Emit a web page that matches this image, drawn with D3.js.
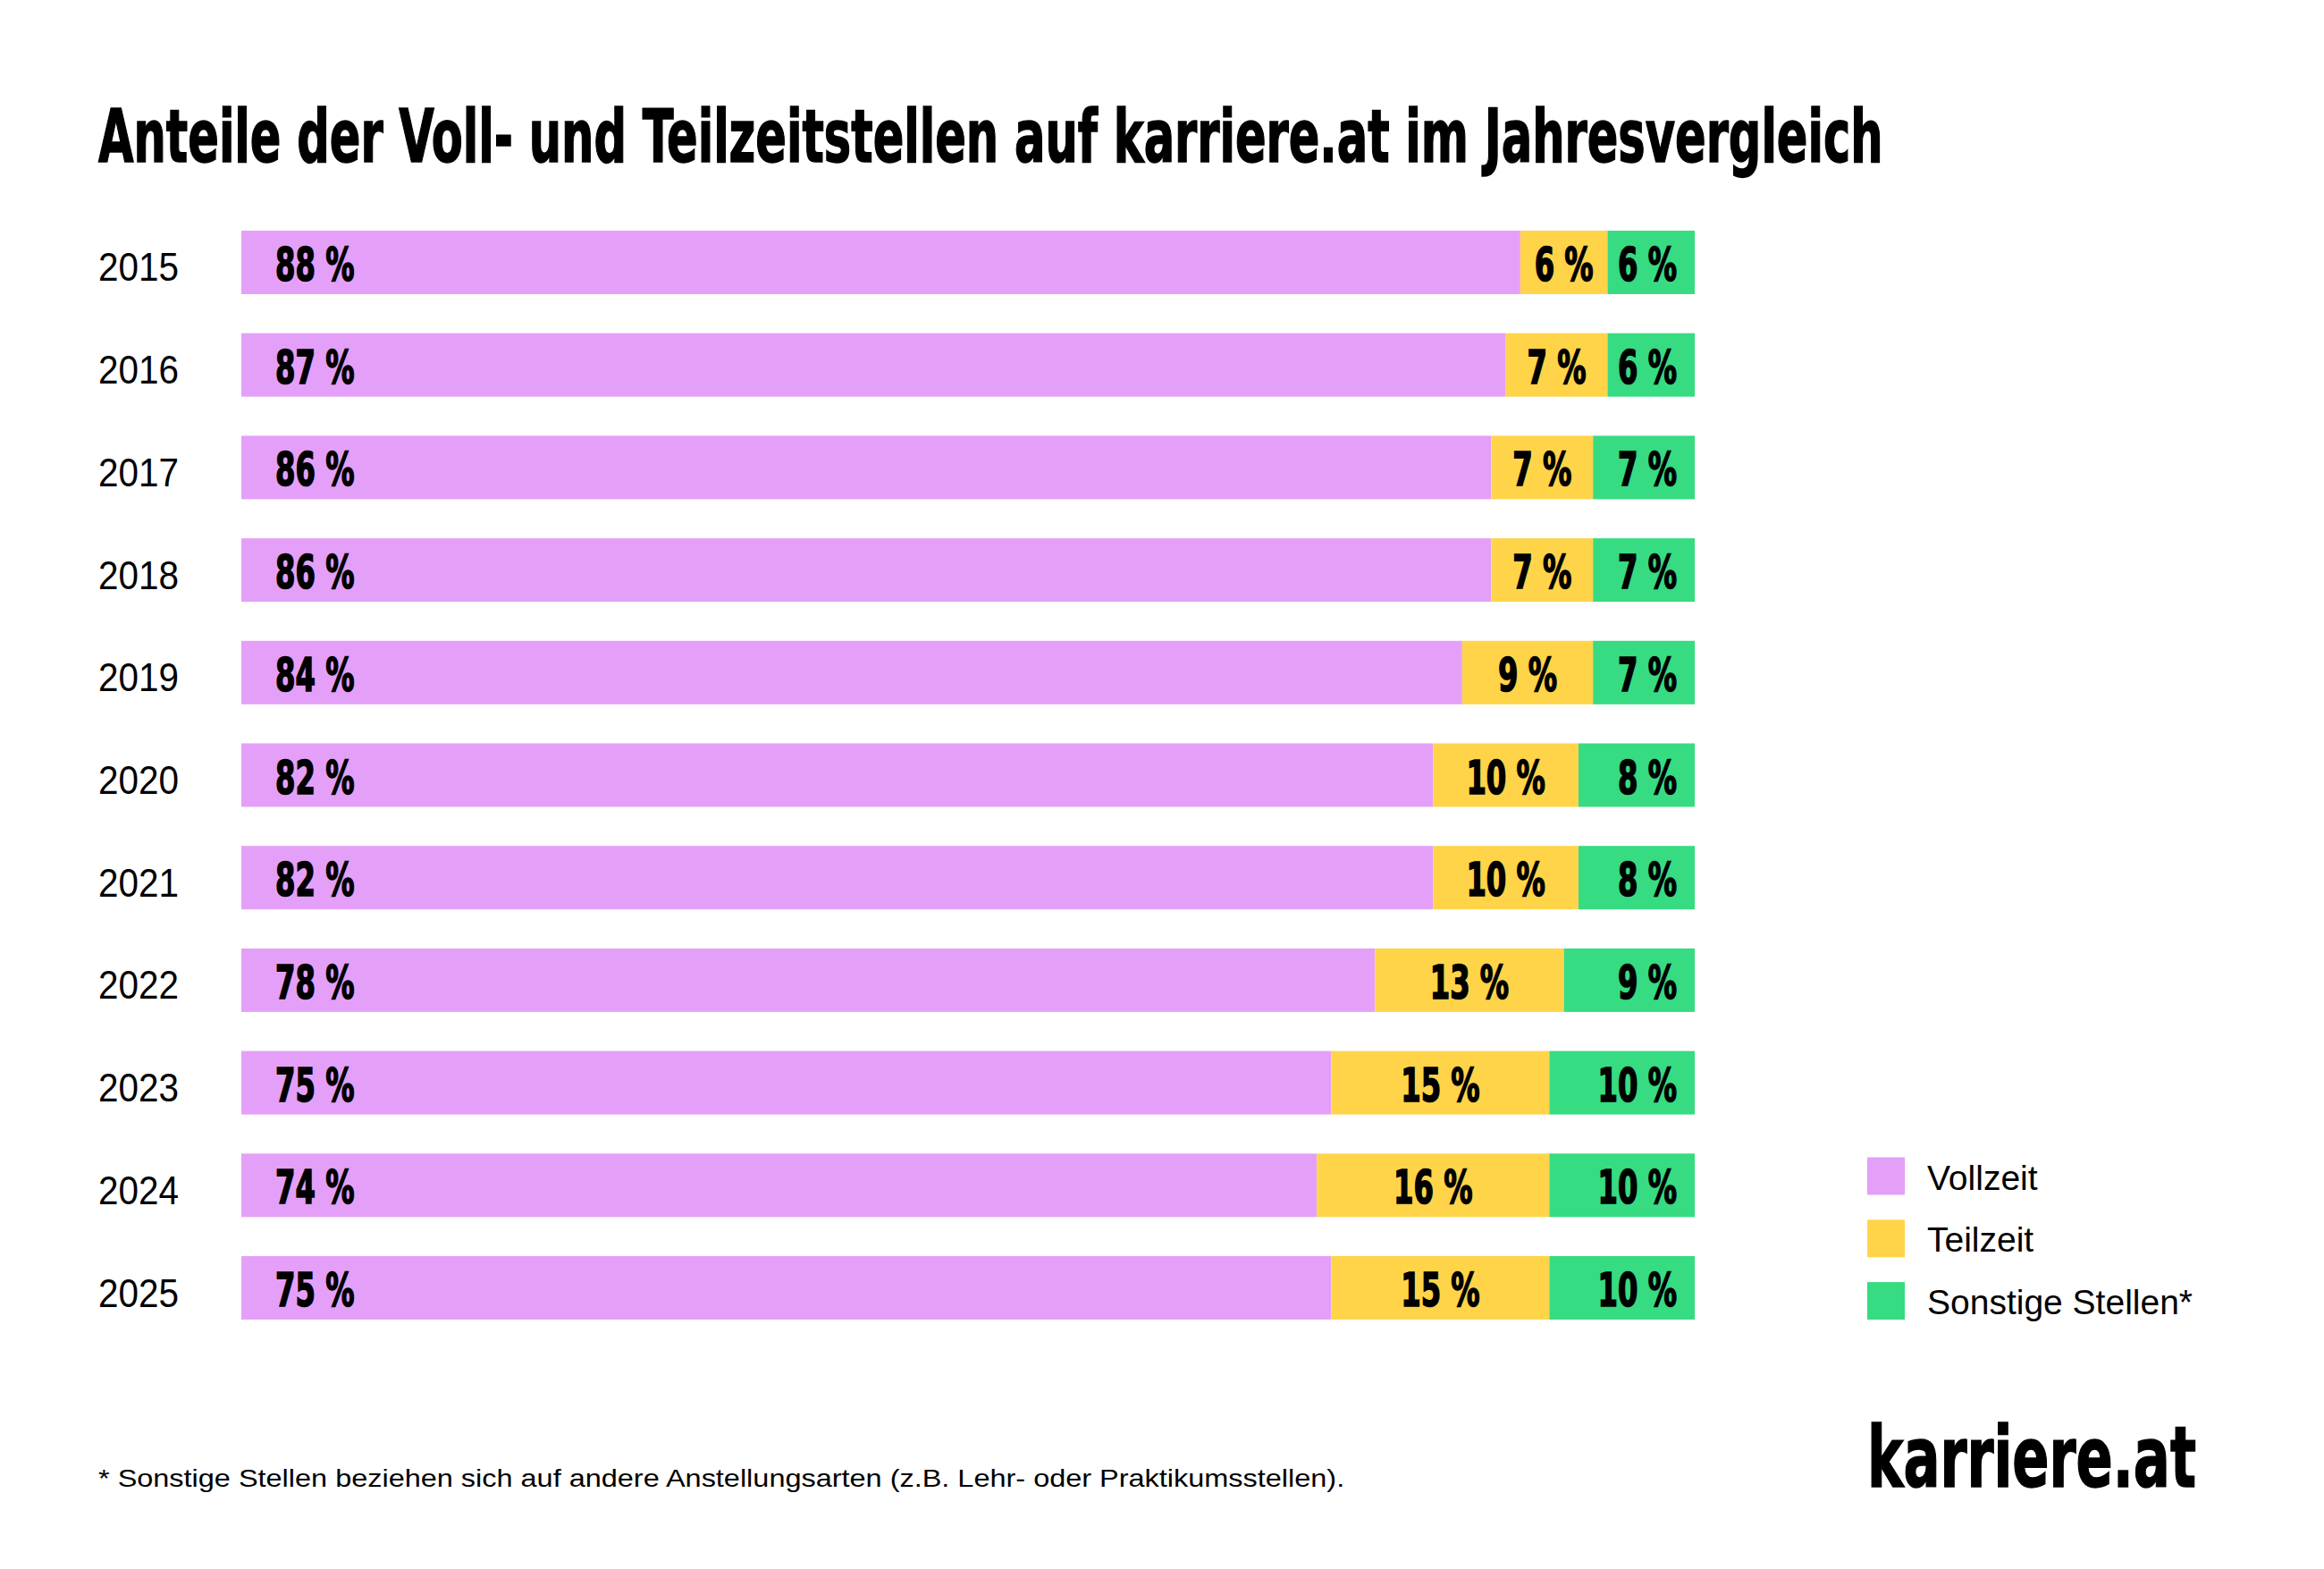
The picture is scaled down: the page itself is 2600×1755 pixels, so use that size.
<!DOCTYPE html>
<html>
<head>
<meta charset="utf-8">
<script src="https://cdn.jsdelivr.net/npm/d3@7"></script>
<style>
  html, body { margin: 0; padding: 0; background: #fff; }
  svg { display: block; }
</style>
</head>
<body>
<svg id="chart" width="2600" height="1755"></svg>
<script>
// data (shares in %)
var years = ["2015", "2016", "2017", "2018", "2019", "2020", "2021", "2022", "2023", "2024", "2025"];
var vollzeit = [88, 87, 86, 86, 84, 82, 82, 78, 75, 74, 75];
var teilzeit = [6, 7, 7, 7, 9, 10, 10, 13, 15, 16, 15];
var sonstige = [6, 6, 7, 7, 7, 8, 8, 9, 10, 10, 10];
var seriesKeys = ["vollzeit", "teilzeit", "sonstige"];
var seriesNames = ["Vollzeit", "Teilzeit", "Sonstige Stellen*"];

var titleText = "Anteile der Voll- und Teilzeitstellen auf karriere.at im Jahresvergleich";
var footnoteText = "* Sonstige Stellen beziehen sich auf andere Anstellungsarten (z.B. Lehr- oder Praktikumsstellen).";
var logoText = "karriere.at";

var colors = { vollzeit: "#e4a0f8", teilzeit: "#ffd449", sonstige: "#36db82" };

var condensed = "'DejaVu Sans Condensed', 'Liberation Sans Narrow', sans-serif";
var regular = "'Liberation Sans', 'Roboto', sans-serif";

var svg = d3.select("#chart");

/**
 * squeeze a text horizontally so it fills the given width, anchored at (x, y)
 */
var fitWidth = function (sel, x, y, width) {
	var natural = sel.node().getComputedTextLength();
	var sx = natural > 0 ? width / natural : 1;
	sel.attr("transform", "translate(" + x + "," + y + ") scale(" + sx + ",1)");
};

// build rows for the stack layout
var rows = years.map(function (y, i) {
	return { year: y, vollzeit: vollzeit[i], teilzeit: teilzeit[i], sonstige: sonstige[i] };
});

var x = d3.scaleLinear().domain([0, 100]).range([270, 1896]);
var y = d3.scaleBand().domain(years).range([258, 1476]).paddingInner(0.381).paddingOuter(0);

var stacked = d3.stack().keys(seriesKeys)(rows);

// title (a thin stroke makes the bold face look as heavy as the original)
var title = svg.append("text")
	.style("font-family", condensed)
	.style("font-weight", 700)
	.style("font-size", "82px")
	.style("fill", "#000")
	.style("stroke", "#000")
	.style("stroke-width", 1.5)
	.text(titleText);
fitWidth(title, 110, 181, 1997);

// year labels (the band axis, drawn without a domain line)
var yAxis = svg.append("g")
	.attr("transform", "translate(110,0)")
	.call(d3.axisLeft(y).tickSize(0).tickPadding(0));
yAxis.select(".domain").remove();
yAxis.selectAll("text")
	.attr("text-anchor", "start")
	.attr("dy", null)
	.attr("y", 21)
	.attr("textLength", 90)
	.attr("lengthAdjust", "spacingAndGlyphs")
	.style("font-family", regular)
	.style("font-size", "45px")
	.style("fill", "#000");

// stacked bars
var layers = svg.append("g").selectAll("g")
	.data(stacked)
	.join("g")
	.attr("fill", function (d) { return colors[d.key]; });

layers.selectAll("rect")
	.data(function (d) { return d; })
	.join("rect")
	.attr("x", function (d) { return x(d[0]); })
	.attr("y", function (d) { return y(d.data.year); })
	.attr("width", function (d) { return x(d[1]) - x(d[0]); })
	.attr("height", y.bandwidth());

// value labels: first segment left, middle centred, last right
var labelX = function (d) {
	if (d.key === "vollzeit") { return x(d[0]) + 38; }
	if (d.key === "teilzeit") { return (x(d[0]) + x(d[1])) / 2; }
	return x(d[1]) - 20;
};

layers.selectAll("text")
	.data(function (d) { return d.map(function (p) { p.key = d.key; return p; }); })
	.join("text")
	.attr("transform", function (d) {
		return "translate(" + labelX(d) + "," + (y(d.data.year) + y.bandwidth() / 2 + 20.5) + ") scale(0.69,1)";
	})
	.attr("text-anchor", function (d) {
		if (d.key === "vollzeit") { return "start"; }
		if (d.key === "teilzeit") { return "middle"; }
		return "end";
	})
	.style("font-family", condensed)
	.style("font-weight", 700)
	.style("font-size", "52px")
	.style("fill", "#000")
	.style("stroke", "#000")
	.style("stroke-width", 1.6)
	.text(function (d) { return d.data[d.key] + " %"; });

// legend
var legend = svg.append("g").selectAll("g")
	.data(seriesKeys)
	.join("g")
	.attr("transform", function (d, i) { return "translate(2089," + (1294.5 + i * 69.8) + ")"; });

legend.append("rect")
	.attr("width", 42)
	.attr("height", 42)
	.attr("fill", function (d) { return colors[d]; });

legend.append("text")
	.attr("x", 67)
	.attr("y", 36)
	.style("font-family", regular)
	.style("font-size", "39px")
	.style("fill", "#000")
	.text(function (d, i) { return seriesNames[i]; });

// footnote
var footnote = svg.append("text")
	.style("font-family", regular)
	.style("font-size", "28px")
	.style("fill", "#000")
	.text(footnoteText);
fitWidth(footnote, 110, 1663, 1395);

// logo
var logo = svg.append("text")
	.style("font-family", condensed)
	.style("font-weight", 700)
	.style("font-size", "94px")
	.style("fill", "#000")
	.style("stroke", "#000")
	.style("stroke-width", 1.5)
	.text(logoText);
fitWidth(logo, 2089, 1663, 368);
</script>
</body>
</html>
